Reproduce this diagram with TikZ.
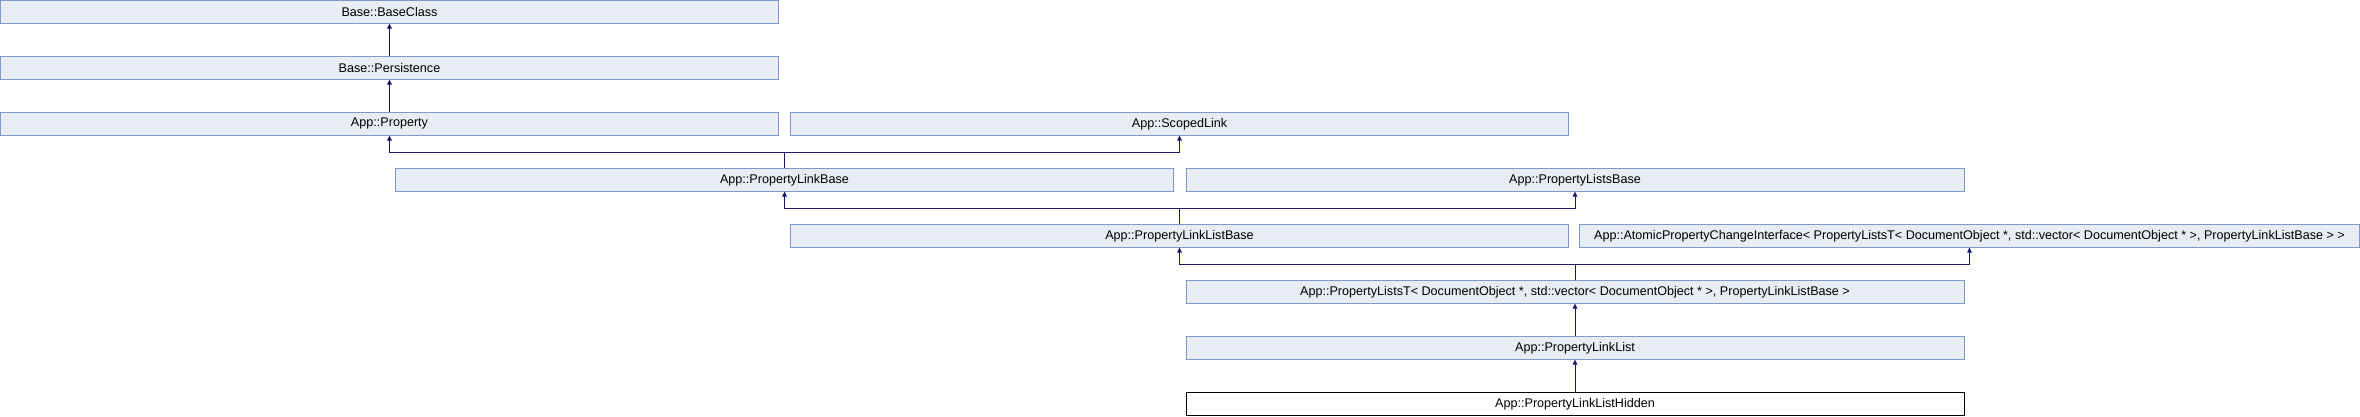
\documentclass[tikz,border=0pt]{standalone}
\usepackage{fontspec}
\setmainfont{Liberation Sans}
\usetikzlibrary{arrows.meta}
\definecolor{boxfill}{RGB}{232,236,245}
\definecolor{boxline}{RGB}{128,152,204}
\definecolor{edgecol}{RGB}{25,25,112}
\begin{document}
\begin{tikzpicture}[x=1pt,y=-1pt,
  cls/.style={draw=boxline, fill=boxfill, line width=1pt, minimum width=778pt, minimum height=22.5pt, inner sep=0pt, font=\fontsize{12.6}{14}\selectfont},
  hid/.style={cls, draw=black, fill=white},
  edge/.style={draw=edgecol, line width=0.9pt},
  arr/.style={edge, -{Triangle[length=5pt,width=4.5pt]}}]
\useasboundingbox (0,0) rectangle (2360,416);
% nodes
\node[cls] (base) at (389.5,11.75) {Base::BaseClass};
\node[cls] (pers) at (389.5,67.75) {Base::Persistence};
\node[cls] (prop) at (389.5,123.75) {App::Property};
\node[cls] (scoped) at (1179.5,123.75) {App::ScopedLink};
\node[cls] (plb) at (784.5,179.75) {App::PropertyLinkBase};
\node[cls] (plsb) at (1575,179.75) {App::PropertyListsBase};
\node[cls] (pllb) at (1179.5,235.75) {App::PropertyLinkListBase};
\node[cls, minimum width=780pt] (atomic) at (1969.5,235.75) {App::AtomicPropertyChangeInterface< PropertyListsT< DocumentObject *, std::vector< DocumentObject * >, PropertyLinkListBase > >};
\node[cls] (plt) at (1575,291.75) {App::PropertyListsT< DocumentObject *, std::vector< DocumentObject * >, PropertyLinkListBase >};
\node[cls] (pll) at (1575,347.75) {App::PropertyLinkList};
\node[hid] (pllh) at (1575,403.75) {App::PropertyLinkListHidden};
% junctions
\coordinate (j1) at (plb.north |- 0,152);
\coordinate (j2) at (pllb.north |- 0,208);
\coordinate (j3) at (plt.north |- 0,264);
% edges
\draw[arr] (pers.north) -- (base.south);
\draw[arr] (prop.north) -- (pers.south);
\draw[edge] (plb.north) -- (j1);
\draw[arr] (j1) -| (prop.south);
\draw[arr] (j1) -| (scoped.south);
\draw[edge] (pllb.north) -- (j2);
\draw[arr] (j2) -| (plb.south);
\draw[arr] (j2) -| (plsb.south);
\draw[edge] (plt.north) -- (j3);
\draw[arr] (j3) -| (pllb.south);
\draw[arr] (j3) -| (atomic.south);
\draw[arr] (pll.north) -- (plt.south);
\draw[arr] (pllh.north) -- (pll.south);
\end{tikzpicture}
\end{document}
